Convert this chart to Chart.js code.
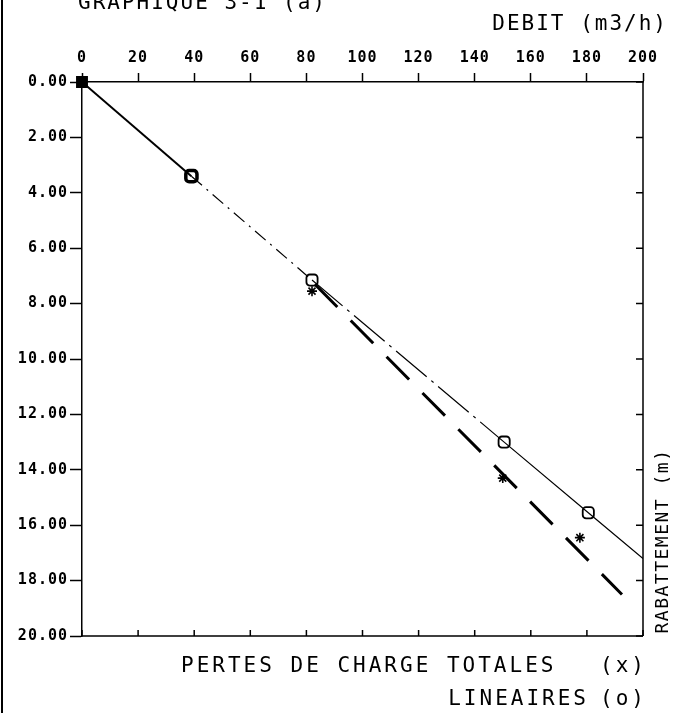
<!DOCTYPE html>
<html>
<head>
<meta charset="utf-8">
<script src="https://cdn.jsdelivr.net/npm/chart.js@4/dist/chart.umd.min.js"></script>
<style>
html,body{margin:0;padding:0;background:#fff;}
canvas{display:block;}
</style>
</head>
<body>
<canvas id="c" width="673" height="713"></canvas>
<script>
// ---- data ----
const xTickValues = [0, 20, 40, 60, 80, 100, 120, 140, 160, 180, 200];
const yTickValues = [0, 2, 4, 6, 8, 10, 12, 14, 16, 18, 20];
const yTickLabels = ['0.00', '2.00', '4.00', '6.00', '8.00', '10.00', '12.00', '14.00', '16.00', '18.00', '20.00'];

// measured points, pertes de charge lineaires (o)
const debitLin = [0, 39, 82, 150.5, 180.5];
const rabLin = [0, 3.4, 7.15, 13.0, 15.55];
// measured points, pertes de charge totales (x)
const debitTot = [0, 39, 82, 150, 177.5];
const rabTot = [0, 3.4, 7.55, 14.3, 16.45];
// drawn curve for lineaires
const curveLinX = [0, 39, 82, 150.5, 180.5, 200];
const curveLinY = [0, 3.4, 7.15, 13.0, 15.55, 17.2];
// drawn curve for totales
const curveTotX = [83, 192.5];
const curveTotY = [7.3, 18.5];

const titleText = 'GRAPHIQUE 3-1 (a)';
const xAxisTitle = 'DEBIT (m3/h)';
const yAxisTitle = 'RABATTEMENT (m)';
const legendTot = 'PERTES DE CHARGE TOTALES';
const legendLin = 'LINEAIRES';

const pts = (xs, ys) => xs.map((x, i) => ({x: x, y: ys[i]}));
const MONO = '"DejaVu Sans Mono", "Liberation Mono", monospace';

const spacingPlugin = {
  id: 'spacing',
  beforeLayout(chart) { chart.ctx.letterSpacing = '1px'; },
  beforeDraw(chart) { chart.ctx.letterSpacing = '1px'; }
};

const framePlugin = {
  id: 'frame',
  afterDraw(chart) {
    const ctx = chart.ctx;
    const a = chart.chartArea;
    const xs = chart.scales.x, ys = chart.scales.y;
    ctx.save();
    ctx.strokeStyle = '#000';
    ctx.lineWidth = 1.5;
    // right and bottom borders
    ctx.beginPath();
    ctx.moveTo(a.right, a.top); ctx.lineTo(a.right, a.bottom);
    ctx.moveTo(a.left, a.bottom); ctx.lineTo(a.right, a.bottom);
    ctx.stroke();
    // inward ticks on right and bottom
    ctx.beginPath();
    yTickValues.forEach(v => {
      const p = ys.getPixelForValue(v);
      ctx.moveTo(a.right, p); ctx.lineTo(a.right - 7, p);
    });
    xTickValues.forEach(v => {
      const p = xs.getPixelForValue(v);
      ctx.moveTo(p, a.bottom); ctx.lineTo(p, a.bottom - 6);
    });
    ctx.stroke();
    // scan border on the left
    ctx.lineWidth = 2;
    ctx.beginPath(); ctx.moveTo(2, 0); ctx.lineTo(2, 713); ctx.stroke();

    // texts
    ctx.fillStyle = '#000';
    ctx.font = '21px ' + MONO;
    ctx.letterSpacing = '2px';
    ctx.textBaseline = 'alphabetic';
    ctx.textAlign = 'left';
    ctx.fillText(titleText, 78, 9);
    ctx.textAlign = 'right';
    ctx.fillText(xAxisTitle, 668, 30);
    ctx.letterSpacing = '3px';
    ctx.textAlign = 'left';
    ctx.fillText(legendTot, 181, 672);
    ctx.textAlign = 'right';
    ctx.fillText('(x)', 647, 672);
    ctx.fillText(legendLin, 589, 705);
    ctx.fillText('(o)', 647, 705);
    // vertical axis title
    ctx.save();
    ctx.translate(668, 541);
    ctx.rotate(-Math.PI / 2);
    ctx.font = '18px ' + MONO;
    ctx.letterSpacing = '1.5px';
    ctx.textAlign = 'center';
    ctx.fillText(yAxisTitle, 0, 0);
    ctx.restore();
    ctx.restore();
  }
};

const tickFont = {family: MONO, size: 15, weight: 'bold'};

new Chart(document.getElementById('c'), {
  type: 'scatter',
  data: {
    datasets: [
      {
        label: 'courbe lineaires',
        data: pts(curveLinX, curveLinY),
        showLine: true,
        borderColor: '#000',
        borderWidth: 1.2,
        pointRadius: 0,
        segment: {
          borderWidth: c => c.p0DataIndex === 0 ? 2 : 1.2,
          borderDash: c => c.p0DataIndex === 1 ? [14, 6, 2, 6] : (c.p0DataIndex === 2 ? [40, 6, 3, 6] : [])
        }
      },
      {
        label: 'courbe totales',
        data: pts(curveTotX, curveTotY),
        showLine: true,
        borderColor: '#000',
        borderWidth: 3,
        borderDash: [32, 19],
        pointRadius: 0
      },
      {
        label: 'lineaires (o)',
        data: pts(debitLin, rabLin),
        showLine: false,
        clip: false,
        pointStyle: ['rect', 'rectRounded', 'rectRounded', 'rectRounded', 'rectRounded'],
        pointRadius: [7, 6.5, 6.5, 6.5, 6.5],
        pointBorderWidth: [2, 3.5, 1.8, 1.8, 1.8],
        pointBorderColor: '#000',
        pointBackgroundColor: ['#000', '#fff', '#fff', '#fff', '#fff']
      },
      {
        label: 'totales (x)',
        data: pts(debitTot, rabTot),
        showLine: false,
        clip: false,
        pointStyle: 'star',
        pointRadius: [0, 0, 5, 5, 5],
        pointBorderWidth: 1.6,
        pointBorderColor: '#000',
        pointBackgroundColor: '#000'
      }
    ]
  },
  options: {
    responsive: false,
    animation: false,
    devicePixelRatio: 1,
    layout: {padding: {top: 0, left: 0, right: 30, bottom: 77}},
    plugins: {legend: {display: false}, tooltip: {enabled: false}},
    scales: {
      x: {
        type: 'linear',
        position: 'top',
        min: 0, max: 200,
        afterBuildTicks: s => { s.ticks = xTickValues.map(v => ({value: v})); },
        afterFit: s => { s.height = 82; },
        ticks: {font: tickFont, color: '#000', padding: 6, maxRotation: 0, autoSkip: false, callback: v => String(v)},
        grid: {drawOnChartArea: false, tickLength: 9, color: '#000', tickWidth: 1.5},
        border: {color: '#000', width: 1.5}
      },
      y: {
        type: 'linear',
        position: 'left',
        reverse: true,
        min: 0, max: 20,
        afterBuildTicks: s => { s.ticks = yTickValues.map(v => ({value: v})); },
        afterFit: s => { s.width = 82; },
        ticks: {font: tickFont, color: '#000', padding: 2, autoSkip: false, callback: (v, i) => yTickLabels[i]},
        grid: {drawOnChartArea: false, tickLength: 12, color: '#000', tickWidth: 1.5},
        border: {color: '#000', width: 1.5}
      }
    }
  },
  plugins: [spacingPlugin, framePlugin]
});
</script>
</body>
</html>
